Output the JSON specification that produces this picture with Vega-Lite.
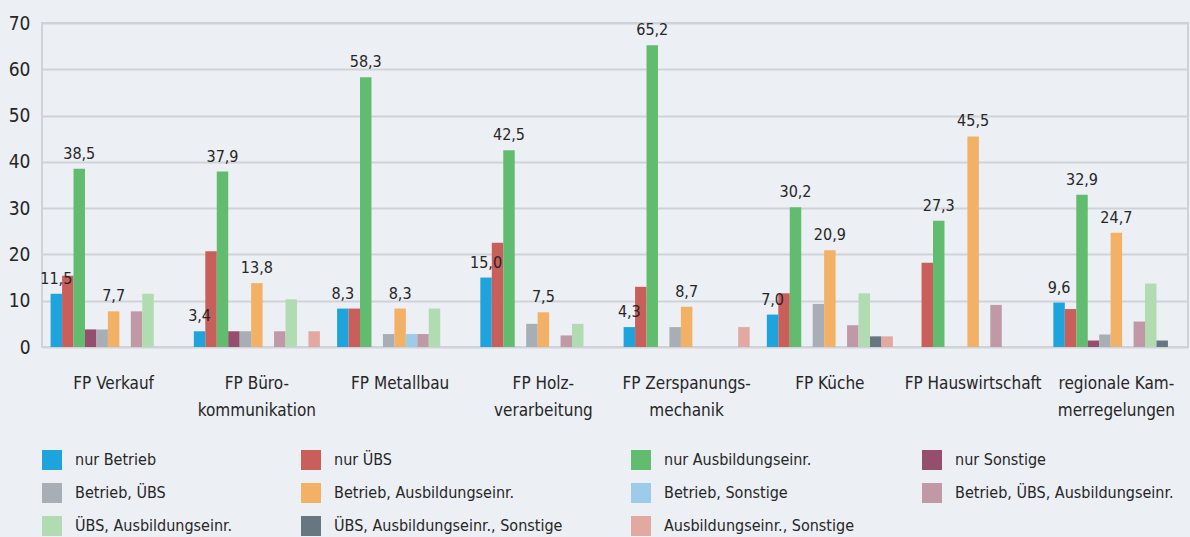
{
  "$schema": "https://vega.github.io/schema/vega-lite/v6.json",
  "width": 1146,
  "height": 324,
  "autosize": "none",
  "padding": {"left": 42, "top": 23, "right": 2, "bottom": 190},
  "background": "#eceff3",
  "config": {
    "locale": {"number": {"decimal": ",", "thousands": ".", "grouping": [3], "currency": ["", " €"]}},
    "view": {"stroke": "#cfd3d8", "strokeWidth": 2},
    "font": "DejaVu Sans Condensed, Lato, sans-serif"
  },
  "data": {
    "values": [
      {"k": "FP Verkauf", "s": "nur Betrieb", "v": 11.5},
      {"k": "FP Verkauf", "s": "nur ÜBS", "v": 15.4},
      {"k": "FP Verkauf", "s": "nur Ausbildungseinr.", "v": 38.5},
      {"k": "FP Verkauf", "s": "nur Sonstige", "v": 3.8},
      {"k": "FP Verkauf", "s": "Betrieb, ÜBS", "v": 3.8},
      {"k": "FP Verkauf", "s": "Betrieb, Ausbildungseinr.", "v": 7.7},
      {"k": "FP Verkauf", "s": "Betrieb, Sonstige", "v": 0},
      {"k": "FP Verkauf", "s": "Betrieb, ÜBS, Ausbildungseinr.", "v": 7.7},
      {"k": "FP Verkauf", "s": "ÜBS, Ausbildungseinr.", "v": 11.5},
      {"k": "FP Verkauf", "s": "ÜBS, Ausbildungseinr., Sonstige", "v": 0},
      {"k": "FP Verkauf", "s": "Ausbildungseinr., Sonstige", "v": 0},

      {"k": "FP Bürokommunikation", "s": "nur Betrieb", "v": 3.4},
      {"k": "FP Bürokommunikation", "s": "nur ÜBS", "v": 20.7},
      {"k": "FP Bürokommunikation", "s": "nur Ausbildungseinr.", "v": 37.9},
      {"k": "FP Bürokommunikation", "s": "nur Sonstige", "v": 3.4},
      {"k": "FP Bürokommunikation", "s": "Betrieb, ÜBS", "v": 3.4},
      {"k": "FP Bürokommunikation", "s": "Betrieb, Ausbildungseinr.", "v": 13.8},
      {"k": "FP Bürokommunikation", "s": "Betrieb, Sonstige", "v": 0},
      {"k": "FP Bürokommunikation", "s": "Betrieb, ÜBS, Ausbildungseinr.", "v": 3.4},
      {"k": "FP Bürokommunikation", "s": "ÜBS, Ausbildungseinr.", "v": 10.3},
      {"k": "FP Bürokommunikation", "s": "ÜBS, Ausbildungseinr., Sonstige", "v": 0},
      {"k": "FP Bürokommunikation", "s": "Ausbildungseinr., Sonstige", "v": 3.4},

      {"k": "FP Metallbau", "s": "nur Betrieb", "v": 8.3},
      {"k": "FP Metallbau", "s": "nur ÜBS", "v": 8.3},
      {"k": "FP Metallbau", "s": "nur Ausbildungseinr.", "v": 58.3},
      {"k": "FP Metallbau", "s": "nur Sonstige", "v": 0},
      {"k": "FP Metallbau", "s": "Betrieb, ÜBS", "v": 2.8},
      {"k": "FP Metallbau", "s": "Betrieb, Ausbildungseinr.", "v": 8.3},
      {"k": "FP Metallbau", "s": "Betrieb, Sonstige", "v": 2.8},
      {"k": "FP Metallbau", "s": "Betrieb, ÜBS, Ausbildungseinr.", "v": 2.8},
      {"k": "FP Metallbau", "s": "ÜBS, Ausbildungseinr.", "v": 8.3},
      {"k": "FP Metallbau", "s": "ÜBS, Ausbildungseinr., Sonstige", "v": 0},
      {"k": "FP Metallbau", "s": "Ausbildungseinr., Sonstige", "v": 0},

      {"k": "FP Holzverarbeitung", "s": "nur Betrieb", "v": 15.0},
      {"k": "FP Holzverarbeitung", "s": "nur ÜBS", "v": 22.5},
      {"k": "FP Holzverarbeitung", "s": "nur Ausbildungseinr.", "v": 42.5},
      {"k": "FP Holzverarbeitung", "s": "nur Sonstige", "v": 0},
      {"k": "FP Holzverarbeitung", "s": "Betrieb, ÜBS", "v": 5.0},
      {"k": "FP Holzverarbeitung", "s": "Betrieb, Ausbildungseinr.", "v": 7.5},
      {"k": "FP Holzverarbeitung", "s": "Betrieb, Sonstige", "v": 0},
      {"k": "FP Holzverarbeitung", "s": "Betrieb, ÜBS, Ausbildungseinr.", "v": 2.5},
      {"k": "FP Holzverarbeitung", "s": "ÜBS, Ausbildungseinr.", "v": 5.0},
      {"k": "FP Holzverarbeitung", "s": "ÜBS, Ausbildungseinr., Sonstige", "v": 0},
      {"k": "FP Holzverarbeitung", "s": "Ausbildungseinr., Sonstige", "v": 0},

      {"k": "FP Zerspanungsmechanik", "s": "nur Betrieb", "v": 4.3},
      {"k": "FP Zerspanungsmechanik", "s": "nur ÜBS", "v": 13.0},
      {"k": "FP Zerspanungsmechanik", "s": "nur Ausbildungseinr.", "v": 65.2},
      {"k": "FP Zerspanungsmechanik", "s": "nur Sonstige", "v": 0},
      {"k": "FP Zerspanungsmechanik", "s": "Betrieb, ÜBS", "v": 4.3},
      {"k": "FP Zerspanungsmechanik", "s": "Betrieb, Ausbildungseinr.", "v": 8.7},
      {"k": "FP Zerspanungsmechanik", "s": "Betrieb, Sonstige", "v": 0},
      {"k": "FP Zerspanungsmechanik", "s": "Betrieb, ÜBS, Ausbildungseinr.", "v": 0},
      {"k": "FP Zerspanungsmechanik", "s": "ÜBS, Ausbildungseinr.", "v": 0},
      {"k": "FP Zerspanungsmechanik", "s": "ÜBS, Ausbildungseinr., Sonstige", "v": 0},
      {"k": "FP Zerspanungsmechanik", "s": "Ausbildungseinr., Sonstige", "v": 4.3},

      {"k": "FP Küche", "s": "nur Betrieb", "v": 7.0},
      {"k": "FP Küche", "s": "nur ÜBS", "v": 11.6},
      {"k": "FP Küche", "s": "nur Ausbildungseinr.", "v": 30.2},
      {"k": "FP Küche", "s": "nur Sonstige", "v": 0},
      {"k": "FP Küche", "s": "Betrieb, ÜBS", "v": 9.3},
      {"k": "FP Küche", "s": "Betrieb, Ausbildungseinr.", "v": 20.9},
      {"k": "FP Küche", "s": "Betrieb, Sonstige", "v": 0},
      {"k": "FP Küche", "s": "Betrieb, ÜBS, Ausbildungseinr.", "v": 4.7},
      {"k": "FP Küche", "s": "ÜBS, Ausbildungseinr.", "v": 11.6},
      {"k": "FP Küche", "s": "ÜBS, Ausbildungseinr., Sonstige", "v": 2.3},
      {"k": "FP Küche", "s": "Ausbildungseinr., Sonstige", "v": 2.3},

      {"k": "FP Hauswirtschaft", "s": "nur Betrieb", "v": 0},
      {"k": "FP Hauswirtschaft", "s": "nur ÜBS", "v": 18.2},
      {"k": "FP Hauswirtschaft", "s": "nur Ausbildungseinr.", "v": 27.3},
      {"k": "FP Hauswirtschaft", "s": "nur Sonstige", "v": 0},
      {"k": "FP Hauswirtschaft", "s": "Betrieb, ÜBS", "v": 0},
      {"k": "FP Hauswirtschaft", "s": "Betrieb, Ausbildungseinr.", "v": 45.5},
      {"k": "FP Hauswirtschaft", "s": "Betrieb, Sonstige", "v": 0},
      {"k": "FP Hauswirtschaft", "s": "Betrieb, ÜBS, Ausbildungseinr.", "v": 9.1},
      {"k": "FP Hauswirtschaft", "s": "ÜBS, Ausbildungseinr.", "v": 0},
      {"k": "FP Hauswirtschaft", "s": "ÜBS, Ausbildungseinr., Sonstige", "v": 0},
      {"k": "FP Hauswirtschaft", "s": "Ausbildungseinr., Sonstige", "v": 0},

      {"k": "regionale Kammerregelungen", "s": "nur Betrieb", "v": 9.6},
      {"k": "regionale Kammerregelungen", "s": "nur ÜBS", "v": 8.2},
      {"k": "regionale Kammerregelungen", "s": "nur Ausbildungseinr.", "v": 32.9},
      {"k": "regionale Kammerregelungen", "s": "nur Sonstige", "v": 1.4},
      {"k": "regionale Kammerregelungen", "s": "Betrieb, ÜBS", "v": 2.7},
      {"k": "regionale Kammerregelungen", "s": "Betrieb, Ausbildungseinr.", "v": 24.7},
      {"k": "regionale Kammerregelungen", "s": "Betrieb, Sonstige", "v": 0},
      {"k": "regionale Kammerregelungen", "s": "Betrieb, ÜBS, Ausbildungseinr.", "v": 5.5},
      {"k": "regionale Kammerregelungen", "s": "ÜBS, Ausbildungseinr.", "v": 13.7},
      {"k": "regionale Kammerregelungen", "s": "ÜBS, Ausbildungseinr., Sonstige", "v": 1.4},
      {"k": "regionale Kammerregelungen", "s": "Ausbildungseinr., Sonstige", "v": 0}
    ]
  },
  "encoding": {
    "x": {
      "field": "k",
      "type": "nominal",
      "sort": ["FP Verkauf", "FP Bürokommunikation", "FP Metallbau", "FP Holzverarbeitung", "FP Zerspanungsmechanik", "FP Küche", "FP Hauswirtschaft", "regionale Kammerregelungen"],
      "scale": {"paddingInner": 0.12, "paddingOuter": 0.06},
      "title": null,
      "axis": {
        "domain": false,
        "ticks": false,
        "grid": false,
        "labelAngle": 0,
        "labelFontSize": 17,
        "labelColor": "#262626",
        "labelBaseline": "middle",
        "labelPadding": 36,
        "labelLineHeight": 27,
        "labelLimit": 0,
        "labelExpr": "datum.value == 'FP Bürokommunikation' ? ['FP Büro-', 'kommunikation'] : datum.value == 'FP Holzverarbeitung' ? ['FP Holz-', 'verarbeitung'] : datum.value == 'FP Zerspanungsmechanik' ? ['FP Zerspanungs-', 'mechanik'] : datum.value == 'regionale Kammerregelungen' ? ['regionale Kam-', 'merregelungen'] : datum.value"
      }
    },
    "xOffset": {
      "field": "s",
      "type": "nominal",
      "scale": {
        "domain": ["nur Betrieb", "nur ÜBS", "nur Ausbildungseinr.", "nur Sonstige", "Betrieb, ÜBS", "Betrieb, Ausbildungseinr.", "Betrieb, Sonstige", "Betrieb, ÜBS, Ausbildungseinr.", "ÜBS, Ausbildungseinr.", "ÜBS, Ausbildungseinr., Sonstige", "Ausbildungseinr., Sonstige"],
        "paddingInner": 0,
        "paddingOuter": 0
      }
    },
    "y": {
      "field": "v",
      "type": "quantitative",
      "scale": {"domain": [0, 70]},
      "title": null,
      "axis": {
        "values": [0, 10, 20, 30, 40, 50, 60, 70],
        "domain": false,
        "ticks": false,
        "gridColor": "#cfd3d8",
        "gridWidth": 2,
        "labelFontSize": 19,
        "labelColor": "#262626",
        "labelPadding": 12
      }
    }
  },
  "layer": [
    {
      "mark": {"type": "bar"},
      "encoding": {
        "color": {
          "field": "s",
          "type": "nominal",
          "scale": {
            "domain": ["nur Betrieb", "nur ÜBS", "nur Ausbildungseinr.", "nur Sonstige", "Betrieb, ÜBS", "Betrieb, Ausbildungseinr.", "Betrieb, Sonstige", "Betrieb, ÜBS, Ausbildungseinr.", "ÜBS, Ausbildungseinr.", "ÜBS, Ausbildungseinr., Sonstige", "Ausbildungseinr., Sonstige"],
            "range": ["#1ea3dc", "#c95f5b", "#62bc6f", "#954e6d", "#a8aeb5", "#f2b165", "#9dcbea", "#c098a6", "#b1dbb1", "#677782", "#e3a89f"]
          },
          "legend": {
            "title": null,
            "orient": "none",
            "legendX": 0,
            "legendY": 427,
            "direction": "horizontal",
            "columns": 4,
            "symbolType": "square",
            "symbolSize": 400,
            "symbolStrokeWidth": 0,
            "labelFontSize": 16,
            "labelColor": "#262626",
            "labelOffset": 13,
            "labelLimit": 0,
            "rowPadding": 13,
            "columnPadding": 68
          }
        }
      }
    },
    {
      "transform": [
        {"filter": {"field": "s", "oneOf": ["nur Betrieb", "nur Ausbildungseinr.", "Betrieb, Ausbildungseinr."]}},
        {"filter": "datum.v > 0"}
      ],
      "mark": {"type": "text", "baseline": "bottom", "dy": -7, "fontSize": 16, "color": "#262626"},
      "encoding": {
        "text": {"field": "v", "type": "quantitative", "format": ".1f"}
      }
    }
  ]
}
